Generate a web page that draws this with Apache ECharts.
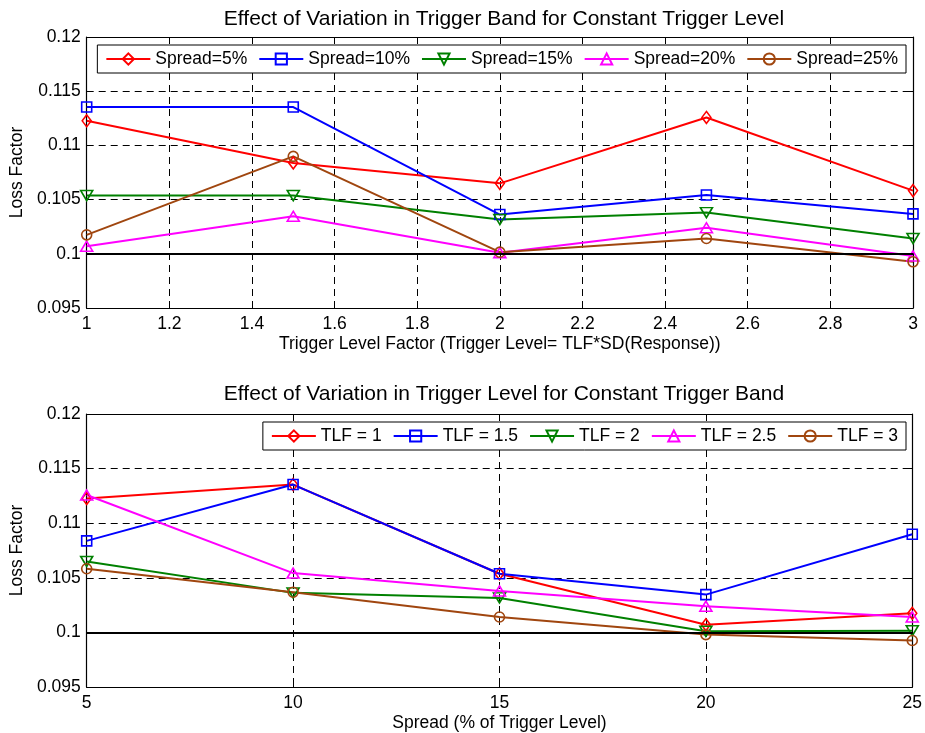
<!DOCTYPE html>
<html>
<head>
<meta charset="utf-8">
<title>Loss Factor vs Trigger Band / Trigger Level</title>
<script src="https://cdn.jsdelivr.net/npm/echarts@6/dist/echarts.min.js"></script>
<style>
  html, body { margin: 0; padding: 0; background: #fff; }
  #chart { width: 925px; height: 733px; }
</style>
</head>
<body>
<div id="chart"></div>
<script>
// Trigger level factors (x of the upper plot) and spreads in % (x of the lower plot)
const tlfValues = [1, 1.5, 2, 2.5, 3];
const spreadValues = [5, 10, 15, 20, 25];

// Loss factor for each spread, one value per trigger level factor
const spread5  = [0.11227, 0.10838, 0.10650, 0.11258, 0.10583];
const spread10 = [0.11354, 0.11354, 0.10362, 0.10543, 0.10368];
const spread15 = [0.10537, 0.10537, 0.10316, 0.10380, 0.10141];
const spread20 = [0.10070, 0.10346, 0.10010, 0.10240, 0.09980];
const spread25 = [0.10175, 0.10899, 0.10015, 0.10141, 0.09926];

const spreadNames = ['Spread=5%', 'Spread=10%', 'Spread=15%', 'Spread=20%', 'Spread=25%'];
const tlfNames = ['TLF = 1', 'TLF = 1.5', 'TLF = 2', 'TLF = 2.5', 'TLF = 3'];

// reference level drawn as a solid line in both plots
const refLevel = 0.1;

// axis ranges and tick steps
const yMin = 0.095, yMax = 0.12, yStep = 0.005;
const tlfMin = 1, tlfMax = 3, tlfStep = 0.2;
const spreadMin = 5, spreadMax = 25, spreadStep = 5;

const topTitle = 'Effect of Variation in Trigger Band for Constant Trigger Level';
const bottomTitle = 'Effect of Variation in Trigger Level for Constant Trigger Band';
const topXName = 'Trigger Level Factor (Trigger Level= TLF*SD(Response))';
const bottomXName = 'Spread (% of Trigger Level)';
const yName = 'Loss Factor';

// ---- styling ----
const FONT = '"Liberation Sans", Arial, Helvetica, sans-serif';
const colors = ['#ff0000', '#0000ff', '#008000', '#ff00ff', '#a0460f'];
const markers = [
  { symbol: 'diamond', size: [9, 12], rotate: 0 },
  { symbol: 'rect', size: [10, 10], rotate: 0 },
  { symbol: 'triangle', size: [12, 10], rotate: 180 },
  { symbol: 'triangle', size: [12, 10], rotate: 0 },
  { symbol: 'circle', size: [10, 10], rotate: 0 }
];

const spreadRows = [spread5, spread10, spread15, spread20, spread25];

function pairs(xs, ys) {
  return xs.map((x, i) => [x, ys[i]]);
}

function makeSeries(name, idx, data, axisIdx) {
  const m = markers[idx];
  const s = {
    type: 'line',
    name: name,
    xAxisIndex: axisIdx,
    yAxisIndex: axisIdx,
    data: data,
    symbol: m.symbol,
    symbolSize: m.size,
    symbolRotate: m.rotate,
    showAllSymbol: true,
    animation: false,
    lineStyle: { color: colors[idx], width: 2 },
    itemStyle: { color: 'transparent', borderColor: colors[idx], borderWidth: 1.6 },
    emphasis: { disabled: true }
  };
  if (idx === 0) {
    s.markLine = {
      silent: true,
      symbol: 'none',
      animation: false,
      label: { show: false },
      lineStyle: { color: '#000', type: 'solid', width: 2 },
      data: [{ yAxis: refLevel }]
    };
  }
  return s;
}

const series = [];
spreadRows.forEach((row, i) => {
  series.push(makeSeries(spreadNames[i], i, pairs(tlfValues, row), 0));
});
tlfValues.forEach((t, j) => {
  const col = spreadRows.map(row => row[j]);
  series.push(makeSeries(tlfNames[j], j, pairs(spreadValues, col), 2));
});

const labelStyle = { color: '#000', fontFamily: FONT, fontSize: 17.5 };
const dashed = { show: true, lineStyle: { color: '#000', type: [7, 5], width: 1 } };
const frameLine = { show: true, onZero: false, lineStyle: { color: '#000', width: 1.2 } };
const innerTick = { show: true, inside: true, length: 5, lineStyle: { color: '#000', width: 1 } };

function fmt(d) { return v => String(+v.toFixed(d)); }

function mainX(grid, min, max, step, name, dec) {
  return {
    type: 'value', gridIndex: grid, position: 'bottom', min: min, max: max, interval: step,
    axisLine: frameLine, axisTick: innerTick, splitLine: dashed,
    axisLabel: Object.assign({ margin: 7, formatter: fmt(dec) }, labelStyle),
    name: name, nameLocation: 'middle', nameGap: 27,
    nameTextStyle: labelStyle
  };
}
function frameX(grid, min, max, step) {
  return {
    type: 'value', gridIndex: grid, position: 'top', min: min, max: max, interval: step,
    axisLine: frameLine, axisTick: innerTick, splitLine: { show: false },
    axisLabel: { show: false }
  };
}
function mainY(grid) {
  return {
    type: 'value', gridIndex: grid, position: 'left', min: yMin, max: yMax, interval: yStep,
    axisLine: frameLine, axisTick: innerTick, splitLine: dashed,
    axisLabel: Object.assign({ margin: 6, formatter: fmt(3) }, labelStyle),
    name: yName, nameLocation: 'middle', nameGap: 55, nameRotate: 90,
    nameTextStyle: labelStyle
  };
}
function frameY(grid) {
  return {
    type: 'value', gridIndex: grid, position: 'right', min: yMin, max: yMax, interval: yStep,
    axisLine: frameLine, axisTick: innerTick, splitLine: { show: false },
    axisLabel: { show: false }
  };
}

const legendBase = {
  orient: 'horizontal',
  right: 19,
  itemWidth: 44,
  itemHeight: 14,
  itemGap: 11,
  padding: [5, 8],
  backgroundColor: '#fff',
  borderColor: '#000',
  borderWidth: 1,
  borderRadius: 0,
  selectedMode: false,
  textStyle: { color: '#000', fontFamily: FONT, fontSize: 17.5 }
};

const option = {
  backgroundColor: '#fff',
  animation: false,
  title: [
    { text: topTitle, left: 499, top: 4, textAlign: 'center',
      textStyle: { color: '#000', fontFamily: FONT, fontSize: 21, fontWeight: 'normal' } },
    { text: bottomTitle, left: 499, top: 379, textAlign: 'center',
      textStyle: { color: '#000', fontFamily: FONT, fontSize: 21, fontWeight: 'normal' } }
  ],
  legend: [
    Object.assign({}, legendBase, { top: 45, data: spreadNames }),
    Object.assign({}, legendBase, { top: 422, data: tlfNames })
  ],
  grid: [
    { left: 85, right: 12, top: 37, height: 271, containLabel: false },
    { left: 85, right: 12, top: 414, height: 273, containLabel: false }
  ],
  xAxis: [
    mainX(0, tlfMin, tlfMax, tlfStep, topXName, 1),
    frameX(0, tlfMin, tlfMax, tlfStep),
    mainX(1, spreadMin, spreadMax, spreadStep, bottomXName, 0),
    frameX(1, spreadMin, spreadMax, spreadStep)
  ],
  yAxis: [mainY(0), frameY(0), mainY(1), frameY(1)],
  series: series
};

const chart = echarts.init(document.getElementById('chart'), null, { renderer: 'canvas' });
chart.setOption(option);
</script>
</body>
</html>
